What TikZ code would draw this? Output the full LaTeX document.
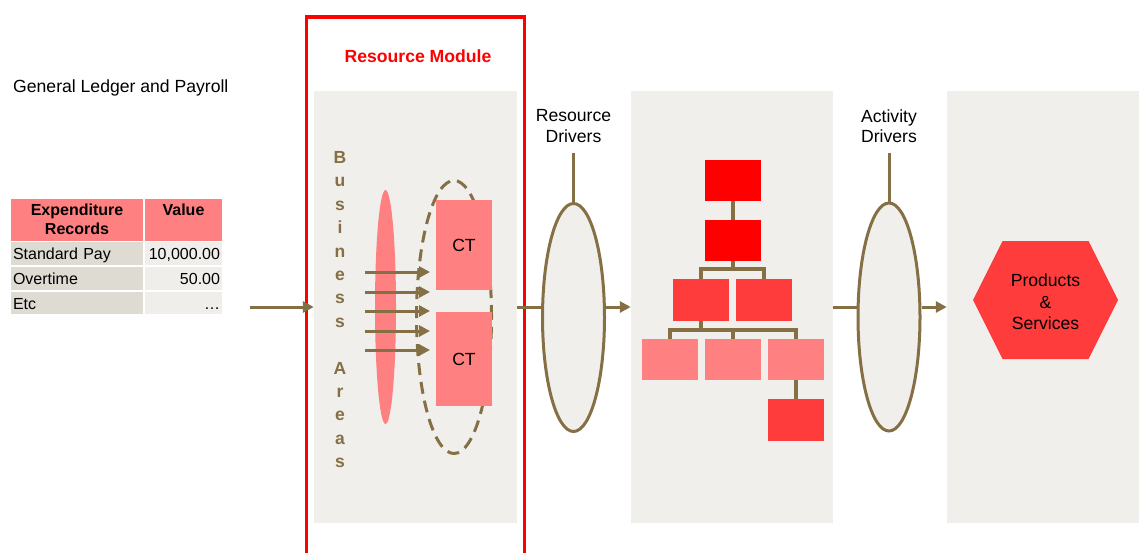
\documentclass[tikz,border=0pt]{standalone}
\usepackage{fontspec}
\setmainfont{Liberation Sans}
\usetikzlibrary{arrows.meta,shapes.geometric}

\definecolor{drvolive}{HTML}{857045}
\definecolor{panelgray}{HTML}{F0EFEB}
\definecolor{pinkbox}{HTML}{FF8080}
\definecolor{hatchred}{HTML}{FF3C3C}
\definecolor{cellkey}{HTML}{DEDBD3}
\definecolor{cellval}{HTML}{EFEEEA}

\tikzset{
  txt/.style={font=\fontsize{17.6}{20.5}\selectfont, text=black, inner sep=0pt},
  tabtxt/.style={font=\fontsize{16}{19}\selectfont, text=black},
  panelbox/.style={fill=panelgray, draw=none, inner sep=0pt},
  flow/.style={draw=drvolive, line width=3pt},
  flowarrow/.style={flow, -{Triangle[length=11pt,width=11pt]}},
  treeline/.style={draw=drvolive, line width=3.5pt},
  treebox/.style={minimum width=56pt, minimum height=41pt, inner sep=0pt, draw=none},
  driver/.style={ellipse, draw=drvolive, line width=3pt, fill=panelgray,
    minimum width=62pt, minimum height=228pt, inner sep=0pt},
  cell/.style={tabtxt, inner xsep=2pt, inner ysep=0pt, minimum height=23pt,
    text height=14pt, text depth=2pt},
  headcell/.style={fill=pinkbox, minimum height=42pt, align=center, inner xsep=2pt,
    inner ysep=0pt, text=black, font=\fontsize{16}{19}\bfseries\selectfont},
}

\begin{document}
\begin{tikzpicture}[x=1pt,y=-1pt]
\useasboundingbox (0,0) rectangle (1139,552);

% source heading
\node[txt, anchor=base west] (gl) at (13,92) {General Ledger and Payroll};

% expenditure table
\node[headcell, minimum width=132pt] (h1) at (77,219.5) {Expenditure\\Records};
\node[headcell, minimum width=77pt] (h2) at (183.5,219.5) {Value\\\mbox{}};
\node[cell, fill=cellkey, text width=128pt, align=left]  (r1a) at (77,253.5) {Standard Pay};
\node[cell, fill=cellval, text width=73pt, align=right] (r1b) at (183.5,253.5) {10,000.00};
\node[cell, fill=cellkey, text width=128pt, align=left]  (r2a) at (77,278.5) {Overtime};
\node[cell, fill=cellval, text width=73pt, align=right] (r2b) at (183.5,278.5) {50.00};
\node[cell, fill=cellkey, text width=128pt, align=left, minimum height=22pt]  (r3a) at (77,303) {Etc};
\node[cell, fill=cellval, text width=73pt, align=right, minimum height=22pt] (r3b) at (183.5,303) {\dots};

% grey stage panels
\node[panelbox, minimum width=203pt, minimum height=432pt] (p1) at (415.5,307) {};
\node[panelbox, minimum width=202pt, minimum height=432pt] (p2) at (732,307) {};
\node[panelbox, minimum width=192pt, minimum height=432pt] (p3) at (1043,307) {};

% resource module frame
\draw[red, line width=3.5pt] (306.5,570) -- (306.5,17) -- (524.5,17) -- (524.5,570);
\node[txt, text=red, font=\fontsize{17.6}{20}\bfseries\selectfont] (rm) at (418,56) {Resource Module};

% main flow level
\coordinate (flowy) at (0,307);
\coordinate (src) at (250,307);
\draw[flowarrow] (src) -- (src -| p1.west);

% business areas
\foreach \ch/\k in {B/0,u/1,s/2,i/3,n/4,e/5,s/6,s/7,A/9,r/10,e/11,a/12,s/13}
  \node[font=\fontsize{17.5}{20}\bfseries\selectfont, text=drvolive, inner sep=0pt, anchor=base]
    (ba\k) at (340,{163.5+23.4*\k}) {\ch};

\node[ellipse, fill=pinkbox, minimum width=21pt, minimum height=234pt, inner sep=0pt] (bae) at (385.5,307) {};
\node[ellipse, draw=drvolive, line width=3pt, dash pattern=on 12pt off 7pt,
      minimum width=75pt, minimum height=273pt, inner sep=0pt] (ctg) at (454,317) {};
\node[txt, fill=pinkbox, minimum width=56pt, minimum height=90pt] (ct1) at (464,245) {CT};
\node[txt, fill=pinkbox, minimum width=56pt, minimum height=94pt] (ct2) at (464,359) {CT};

\foreach \yy [count=\i] in {272,292,311,331,350} {
  \coordinate (aS\i) at (365,\yy);
  \coordinate (aE\i) at (430,\yy);
  \draw[flowarrow] (aS\i) -- (aE\i);
}

% resource drivers
\node[driver] (rd) at (573.5,317.5) {};
\coordinate (rdtop) at (573.5,153);
\draw[flow] (rd.north) -- (rdtop);
\node[txt, align=center] (rdl) at (573.5,126) {Resource\\Drivers};
\draw[flow] (p1.east |- flowy) -- (rd.west |- flowy);
\draw[flowarrow] (rd.east |- flowy) -- (p2.west |- flowy);

% activity tree
\node[treebox, fill=red] (t1) at (733,180.5) {};
\node[treebox, fill=red] (t2) at (733,240.5) {};
\node[treebox, fill=hatchred, minimum height=42pt] (t3a) at (701,300) {};
\node[treebox, fill=hatchred, minimum height=42pt] (t3b) at (764,300) {};
\node[treebox, fill=pinkbox] (t4a) at (670,359.5) {};
\node[treebox, fill=pinkbox] (t4b) at (733,359.5) {};
\node[treebox, fill=pinkbox] (t4c) at (796,359.5) {};
\node[treebox, fill=hatchred, minimum height=42pt] (t5) at (796,420) {};

\draw[treeline] (t1.south) -- (t2.north);
\coordinate (bus2) at (733,269);
\draw[treeline] (t2.south) -- (bus2);
\draw[treeline] (t3a.north) |- (bus2) -| (t3b.north);
\coordinate (bus3) at (701,330);
\draw[treeline] (t3a.south) -- (bus3);
\draw[treeline] (t4a.north) |- (bus3) -| (t4c.north);
\draw[treeline] (bus3 -| t4b.north) -- (t4b.north);
\draw[treeline] (t4c.south) -- (t5.north);

% activity drivers
\node[driver] (ad) at (889,317) {};
\coordinate (adtop) at (889,153);
\draw[flow] (ad.north) -- (adtop);
\node[txt, align=center] (adl) at (889,126) {Activity\\Drivers};
\draw[flow] (p2.east |- flowy) -- (ad.west |- flowy);
\draw[flowarrow] (ad.east |- flowy) -- (p3.west |- flowy);

% cost objects
\coordinate (psc) at (1045.5,300);
\fill[hatchred] ([shift={(-72.5,0)}]psc) -- ([shift={(-43,-59)}]psc) -- ([shift={(43,-59)}]psc)
  -- ([shift={(72.5,0)}]psc) -- ([shift={(43,59)}]psc) -- ([shift={(-43,59)}]psc) -- cycle;
\node[txt, align=center, font=\fontsize{17.6}{21.5}\selectfont] (ps) at (1045.5,302) {Products\\\&\\Services};
\end{tikzpicture}
\end{document}
